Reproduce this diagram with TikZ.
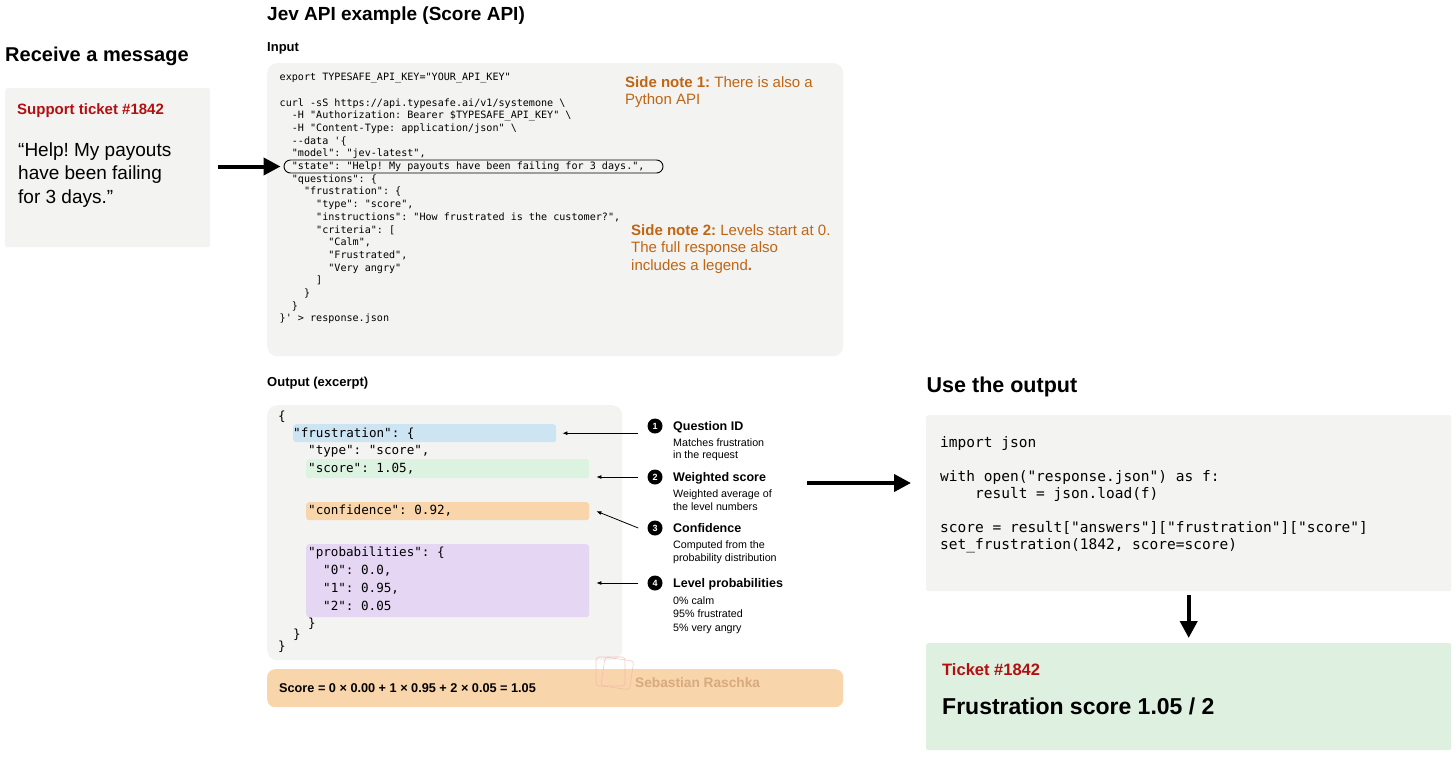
\documentclass[tikz,border=0pt]{standalone}
\usepackage{fontspec}
\setmainfont{Liberation Sans}
\setmonofont{DejaVu Sans Mono}
\usetikzlibrary{arrows.meta,calc}
\frenchspacing

\definecolor{boxgray}{RGB}{243,243,242}
\definecolor{hlblue}{RGB}{205,228,243}
\definecolor{hlgreen}{RGB}{221,243,226}
\definecolor{hlorange}{RGB}{248,213,170}
\definecolor{hlpurple}{RGB}{229,215,243}
\definecolor{tixgreen}{RGB}{222,241,224}
\definecolor{tixred}{RGB}{178,16,16}
\definecolor{sidenote}{RGB}{191,102,20}
\definecolor{wmtan}{RGB}{216,170,128}
\definecolor{wmred}{RGB}{242,180,170}

\tikzset{
	txt/.style={anchor=base west, inner sep=0},
	heading/.style={txt, font=\bfseries\fontsize{20}{24}\selectfont},
	sublabel/.style={txt, font=\bfseries\fontsize{13}{16}\selectfont},
	panel/.style={anchor=north west, inner sep=0, fill=boxgray},
	hl/.style={anchor=north west, inner sep=0, rounded corners=3pt},
	incode/.style={txt, font=\ttfamily\fontsize{10.1}{12.7}\selectfont},
	outcode/.style={txt, font=\ttfamily\fontsize{12.6}{15}\selectfont},
	pycode/.style={txt, font=\ttfamily\fontsize{14.5}{17}\selectfont},
	side/.style={txt, text=sidenote, font=\fontsize{15}{18}\selectfont},
	num/.style={circle, fill=black, text=white, inner sep=0, minimum size=15pt, font=\bfseries\fontsize{9}{9}\selectfont},
	notetitle/.style={txt, font=\bfseries\fontsize{12.5}{15}\selectfont},
	notetext/.style={txt, font=\fontsize{10.7}{13}\selectfont},
	note/.style={line width=0.8pt, -{Latex[length=5pt,width=4pt]}},
	bigarrow/.style={line width=4pt, -{Triangle[length=17pt,width=17pt]}}
}

\begin{document}
\begin{tikzpicture}[x=1pt,y=-1pt]
	\useasboundingbox (0,0) rectangle (1456,756);

	%receive a message
	\node[heading] (recv) at (5,61) {Receive a message};
	\node[panel, rounded corners=2pt, minimum width=205pt, minimum height=159pt] (ticket) at (5,88) {};
	\node[txt, text=tixred, font=\bfseries\fontsize{15}{18}\selectfont] (tkt) at (17,114) {Support ticket \#1842};
	\foreach \q/\y [count=\k] in {“Help! My payouts/156, have been failing/179.5, for 3 days.”/203}
		\node[txt, font=\fontsize{19}{23}\selectfont] (quote\k) at (18,\y) {\q};

	%input
	\node[heading, font=\bfseries\fontsize{19}{23}\selectfont] (jev) at (267,20) {Jev API example (Score API)};
	\node[sublabel] (inlbl) at (267,51) {Input};
	\node[panel, rounded corners=10pt, minimum width=576pt, minimum height=293pt] (inbox) at (267,63) {};
	\foreach \codetxt [count=\i from 0] in {
		{export TYPESAFE\_API\_KEY="YOUR\_API\_KEY"},
		{},
		{curl -sS https://api.typesafe.ai/v1/systemone \textbackslash},
		{~~-H "Authorization: Bearer \$TYPESAFE\_API\_KEY" \textbackslash},
		{~~-H "Content-Type: application/json" \textbackslash},
		{~~--data '\{},
		{~~"model": "jev-latest",},
		{~~"state": "Help! My payouts have been failing for 3 days.",},
		{~~"questions": \{},
		{~~~~"frustration": \{},
		{~~~~~~"type": "score",},
		{~~~~~~"instructions": "How frustrated is the customer?",},
		{~~~~~~"criteria": [},
		{~~~~~~~~"Calm",},
		{~~~~~~~~"Frustrated",},
		{~~~~~~~~"Very angry"},
		{~~~~~~]},
		{~~~~\}},
		{~~\}},
		{\}' > response.json}}
		\node[incode] (in\i) at (279.5,80.6+12.7*\i) {\codetxt};
	\node[draw, line width=0.9pt, rounded corners=6.5pt, minimum width=379pt, minimum height=13pt, inner sep=0] (stateln) at (473.5,166.5) {};

	%side notes
	\node[side] (sn1a) at (625,87) {\textbf{Side note 1:} There is also a};
	\node[side] (sn1b) at (625,104.5) {Python API};
	\node[side] (sn2a) at (631,235) {\textbf{Side note 2:} Levels start at 0.};
	\node[side] (sn2b) at (631,252.5) {The full response also};
	\node[side] (sn2c) at (631,270) {includes a legend\textbf{.}};

	\draw[bigarrow, shorten <=8pt, shorten >=3pt] (ticket.east |- stateln.west) -- (stateln.west);

	%output
	\node[sublabel] (outlbl) at (267,386) {Output (excerpt)};
	\node[panel, rounded corners=10pt, minimum width=355pt, minimum height=255pt] (outbox) at (267,405) {};
	\node[hl, fill=hlblue, minimum width=263pt, minimum height=18pt] (hlid) at (293,424) {};
	\node[hl, fill=hlgreen, minimum width=283pt, minimum height=19pt] (hlscore) at (306,459) {};
	\node[hl, fill=hlorange, minimum width=283pt, minimum height=18pt] (hlconf) at (306,502) {};
	\node[hl, fill=hlpurple, minimum width=283pt, minimum height=73pt] (hlprob) at (306,544) {};

	\node[outcode] (o1) at (278,420) {\{};
	\node[outcode] (o2) at (293,437) {"frustration": \{};
	\node[outcode] (o3) at (308,454) {"type": "score",};
	\node[outcode] (o4) at (308,472) {"score": 1.05,};
	\node[outcode] (o5) at (308,514) {"confidence": 0.92,};
	\node[outcode] (o6) at (308,556) {"probabilities": \{};
	\node[outcode] (o7) at (323,574) {"0": 0.0,};
	\node[outcode] (o8) at (323,592) {"1": 0.95,};
	\node[outcode] (o9) at (323,610) {"2": 0.05};
	\node[outcode] (o10) at (308,627) {\}};
	\node[outcode] (o11) at (293,638) {\}};
	\node[outcode] (o12) at (278,650) {\}};

	%notes
	\foreach \n/\y/\t in {1/426/Question ID, 2/477/Weighted score, 3/528/Confidence, 4/583/Level probabilities}{
		\node[num] (n\n) at (655,\y) {\n};
		\node[notetitle] (t\n) at (673,\y+4.5) {\t};
	}
	\foreach \y/\t [count=\k] in {446/Matches frustration, 458.5/in the request, 497/Weighted average of, 510/the level numbers, 548/Computed from the, 561/probability distribution, 604/0\% calm, 617.5/95\% frustrated, 631/5\% very angry}
		\node[notetext] (d\k) at (673,\y) {\t};

	\draw[note] ($(n1.west |- hlid.east)+(-9,0)$) -- ($(hlid.east)+(6,0)$);
	\draw[note] ($(n2.west)+(-9,0)$) -- ($(hlscore.east |- n2.west)+(7,0)$);
	\draw[note] ($(n3.west)+(-9,0)$) -- ($(hlconf.east)+(7,0)$);
	\draw[note] ($(n4.west)+(-9,0)$) -- ($(hlprob.east |- n4.west)+(7,0)$);

	%score bar
	\node[panel, fill=hlorange, rounded corners=8pt, minimum width=576pt, minimum height=38pt] (scorebar) at (267,669) {};
	\node[txt, font=\bfseries\fontsize{12.7}{15}\selectfont] (scoretxt) at (279,692) {Score = 0 × 0.00 + 1 × 0.95 + 2 × 0.05 = 1.05};
	\draw[wmred, line width=0.6pt, rounded corners=3pt, opacity=0.7] (596,657) rectangle (625,686);
	\draw[wmred, line width=0.6pt, rounded corners=3pt, opacity=0.7, rotate around={-8:(618,672)}] (603,659) rectangle (632,688);
	\node[txt, text=wmtan, font=\bfseries\fontsize{13.7}{16}\selectfont] (wm) at (635,687) {Sebastian Raschka};

	%use the output
	\coordinate (outtail) at (807,483);
	\node[heading, font=\bfseries\fontsize{21.5}{25}\selectfont] (uselbl) at (926.5,392) {Use the output};
	\node[panel, rounded corners=2pt, minimum width=525pt, minimum height=176pt] (pybox) at (926,415) {};
	\foreach \codetxt [count=\i from 0] in {
		{import json},
		{},
		{with open("response.json") as f:},
		{~~~~result = json.load(f)},
		{},
		{score = result["answers"]["frustration"]["score"]},
		{set\_frustration(1842, score=score)}}
		\node[pycode] (py\i) at (940,447+17*\i) {\codetxt};
	\draw[bigarrow, shorten >=15pt] (outtail) -- (outtail -| pybox.west);

	\node[panel, fill=tixgreen, rounded corners=2pt, minimum width=525pt, minimum height=107pt] (tixbox) at (926,643) {};
	\draw[bigarrow, shorten <=4pt, shorten >=5pt] (pybox.south) -- (tixbox.north);
	\node[txt, text=tixred, font=\bfseries\fontsize{16.5}{20}\selectfont] (tkt2) at (942,675) {Ticket \#1842};
	\node[txt, font=\bfseries\fontsize{23}{27}\selectfont] (fscore) at (942,714) {Frustration score 1.05 / 2};
\end{tikzpicture}
\end{document}
